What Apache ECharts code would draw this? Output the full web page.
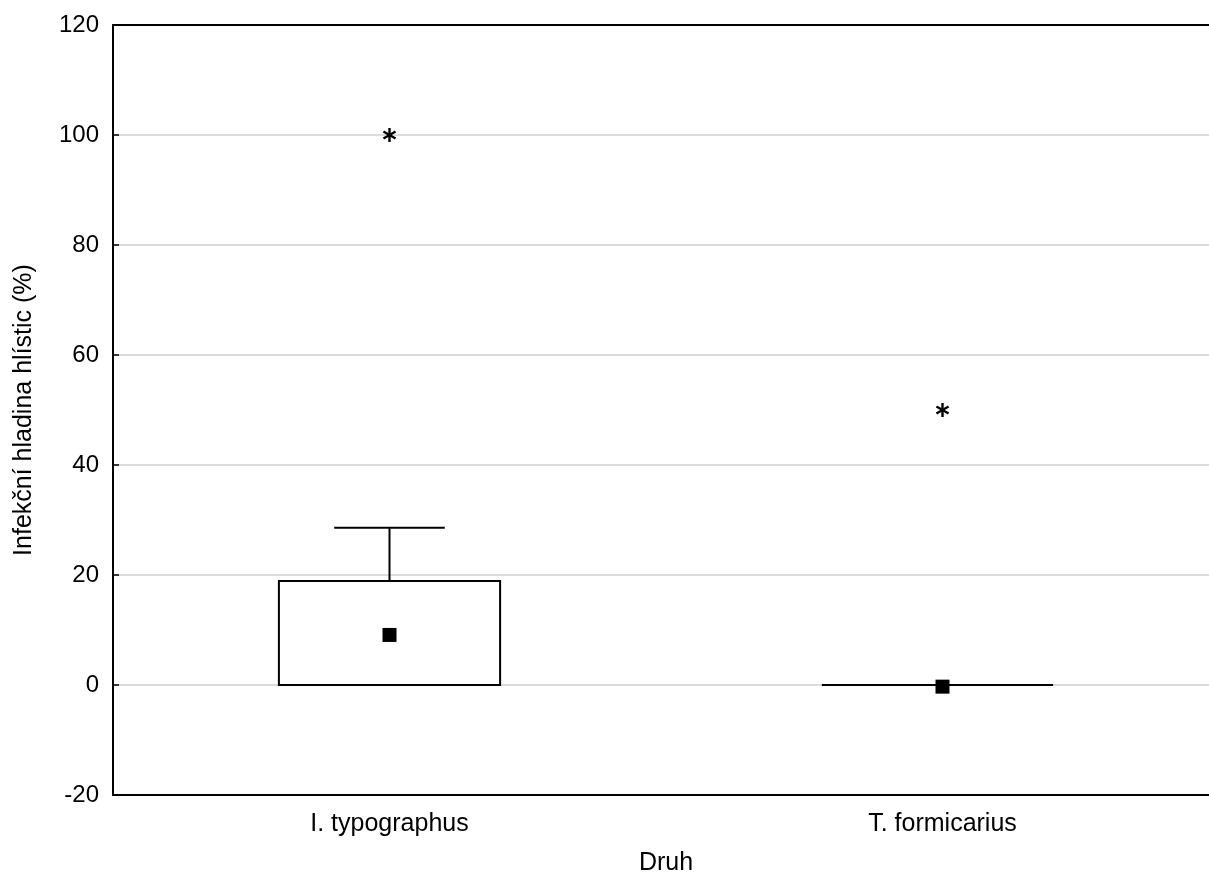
<!DOCTYPE html>
<html>
<head>
<meta charset="utf-8">
<script src="https://cdn.jsdelivr.net/npm/echarts@6/dist/echarts.min.js"></script>
<style>
html,body{margin:0;padding:0;background:#fff;}
#chart{width:1209px;height:880px;}
</style>
</head>
<body>
<div id="chart"></div>
<script>
// ---- data ----
const categories = ['I. typographus', 'T. formicarius'];
const boxLow = [0, 0];          // lower edge of box
const boxHigh = [18.9, 0];      // upper edge of box
const whiskerLow = [0, 0];
const whiskerHigh = [28.6, 0];
const medians = [9.1, -0.3];
const outlierCat = [0, 1];
const outlierVal = [100, 50];
const yMin = -20, yMax = 120, yStep = 20;
const yTitle = 'Infekční hladina hlístic (%)';
const xTitle = 'Druh';

const chart = echarts.init(document.getElementById('chart'), null, {renderer: 'canvas'});
const font = '"Liberation Sans", Arial, sans-serif';

const boxData = categories.map((c, i) => [i, boxLow[i], boxHigh[i], whiskerLow[i], whiskerHigh[i]]);
const medData = categories.map((c, i) => [i, medians[i]]);
const outData = outlierCat.map((c, i) => [c, outlierVal[i]]);

function renderBox(params, api) {
  const i = api.value(0);
  const lo = api.coord([i, api.value(1)]);
  const hi = api.coord([i, api.value(2)]);
  const wLo = api.coord([i, api.value(3)]);
  const wHi = api.coord([i, api.value(4)]);
  const bw = api.size([1, 0])[0] * 0.4;
  const cw = bw / 2;
  const st = {stroke: '#000', lineWidth: 2, fill: null};
  const children = [];
  if (Math.abs(hi[1] - lo[1]) > 0.5) {
    children.push({type: 'rect', shape: {x: lo[0] - bw / 2, y: hi[1], width: bw, height: lo[1] - hi[1]}, style: {stroke: '#000', lineWidth: 2, fill: '#fff'}});
  } else {
    children.push({type: 'line', shape: {x1: lo[0] - bw / 2 - 10, y1: lo[1], x2: lo[0] + bw / 2, y2: lo[1]}, style: st});
  }
  if (wHi[1] < hi[1] - 0.5) {
    children.push({type: 'line', shape: {x1: hi[0], y1: hi[1], x2: wHi[0], y2: wHi[1]}, style: st});
    children.push({type: 'line', shape: {x1: wHi[0] - cw / 2, y1: wHi[1], x2: wHi[0] + cw / 2, y2: wHi[1]}, style: st});
  }
  if (wLo[1] > lo[1] + 0.5) {
    children.push({type: 'line', shape: {x1: lo[0], y1: lo[1], x2: wLo[0], y2: wLo[1]}, style: st});
    children.push({type: 'line', shape: {x1: wLo[0] - cw / 2, y1: wLo[1], x2: wLo[0] + cw / 2, y2: wLo[1]}, style: st});
  }
  return {type: 'group', children: children};
}

function renderStar(params, api) {
  const p = api.coord([api.value(0), api.value(1)]);
  const r = 7;
  const st = {stroke: '#000', lineWidth: 2.4};
  const children = [];
  [90, 30, 150].forEach(a => {
    const rad = a * Math.PI / 180;
    const dx = Math.cos(rad) * r, dy = Math.sin(rad) * r;
    children.push({type: 'line', shape: {x1: p[0] - dx, y1: p[1] - dy, x2: p[0] + dx, y2: p[1] + dy}, style: st});
  });
  return {type: 'group', children: children};
}

chart.setOption({
  animation: false,
  backgroundColor: '#fff',
  grid: {left: 113, top: 25, width: 1106, height: 770, show: false, outerBoundsMode: 'none', containLabel: false},
  xAxis: [{
    type: 'category',
    data: categories,
    boundaryGap: true,
    name: xTitle,
    nameLocation: 'middle',
    nameGap: 56,
    nameTextStyle: {fontFamily: font, fontSize: 25, color: '#000'},
    axisLine: {onZero: false, lineStyle: {color: '#000', width: 2}},
    axisTick: {inside: true, alignWithLabel: true, length: 6, lineStyle: {color: '#000', width: 1.5}},
    axisLabel: {fontFamily: font, fontSize: 25, color: '#000', margin: 17},
    splitLine: {show: false}
  }, {
    type: 'category',
    data: categories,
    position: 'top',
    axisLine: {onZero: false, lineStyle: {color: '#000', width: 2}},
    axisTick: {show: false},
    axisLabel: {show: false},
    splitLine: {show: false}
  }],
  yAxis: {
    type: 'value',
    min: yMin, max: yMax, interval: yStep,
    name: yTitle,
    nameLocation: 'middle',
    nameGap: 76,
    nameRotate: 90,
    nameTextStyle: {fontFamily: font, fontSize: 25, color: '#000'},
    axisLine: {show: true, lineStyle: {color: '#000', width: 2}},
    axisTick: {show: true, inside: true, length: 6, lineStyle: {color: '#000', width: 1.5}},
    axisLabel: {fontFamily: font, fontSize: 24, color: '#000', margin: 14},
    splitLine: {show: true, lineStyle: {color: '#dcdcdc', width: 2}}
  },
  series: [
    {type: 'custom', renderItem: renderBox, data: boxData, z: 3, encode: {x: 0, y: [1, 2, 3, 4]}},
    {type: 'scatter', data: medData, symbol: 'rect', symbolSize: 14, itemStyle: {color: '#000', opacity: 1}, z: 4},
    {type: 'custom', renderItem: renderStar, data: outData, z: 4, encode: {x: 0, y: 1}}
  ]
});
</script>
</body>
</html>
